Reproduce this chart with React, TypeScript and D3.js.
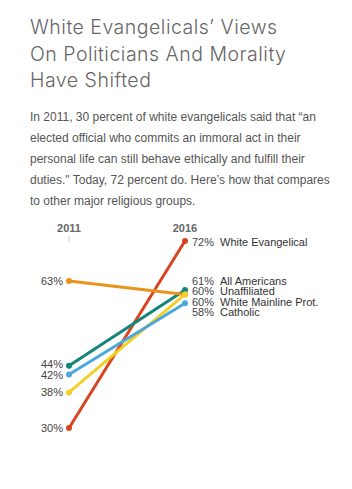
import { useEffect, useRef } from 'react';
import * as d3 from 'd3';

// data
const years = ['2011', '2016'];
const groups = ['White Evangelical', 'All Americans', 'Unaffiliated', 'White Mainline Prot.', 'Catholic'];
const values2011 = [30, 44, 63, 38, 42];
const values2016 = [72, 61, 60, 60, 58];
const colors = ['#d5451f', '#12867a', '#e8941c', '#f2d027', '#4aa8dc'];

const titleLines = ['White Evangelicals\u2019 Views', 'On Politicians And Morality', 'Have Shifted'];
const bodyLines = [
  'In 2011, 30 percent of white evangelicals said that \u201Can',
  'elected official who commits an immoral act in their',
  'personal life can still behave ethically and fulfill their',
  'duties." Today, 72 percent do. Here\u2019s how that compares',
  'to other major religious groups.',
];

type Row = { name: string; a: number; b: number; color: string };

// spread labels apart so they don't overlap, keeping the group centred
const relax = (ys: number[], gap: number) => {
  const order = ys.map((y, i) => ({ y, i })).sort((p, q) => p.y - q.y);
  const clusters: { items: { y: number; i: number }[]; mean: number }[] = [];
  order.forEach(o => {
    clusters.push({ items: [o], mean: o.y });
    let merged = true;
    while (merged && clusters.length > 1) {
      merged = false;
      const c = clusters[clusters.length - 1];
      const p = clusters[clusters.length - 2];
      const pBottom = p.mean + (p.items.length - 1) * gap / 2;
      const cTop = c.mean - (c.items.length - 1) * gap / 2;
      if (cTop - pBottom < gap) {
        const items = p.items.concat(c.items);
        const mean = d3.mean(items, d => d.y) as number;
        clusters.splice(clusters.length - 2, 2, { items, mean });
        merged = true;
      }
    }
  });
  const out = ys.slice();
  clusters.forEach(c => {
    c.items.forEach((it, k) => {
      out[it.i] = c.mean + (k - (c.items.length - 1) / 2) * gap;
    });
  });
  return out;
};

const App = () => {
  const svgRef = useRef<SVGSVGElement>(null);

  useEffect(() => {
    if (!svgRef.current) return;
    const width = 352;
    const height = 489;
    const svg = d3.select(svgRef.current);
    svg.selectAll('*').remove();
    svg.attr('width', width).attr('height', height);

    svg.append('rect').attr('width', width).attr('height', height).attr('fill', '#fff');

    // title
    svg.append('g')
      .selectAll('text')
      .data(titleLines)
      .enter()
      .append('text')
      .attr('x', 30)
      .attr('y', (_, i) => 34 + i * 26.5)
      .attr('fill', '#666')
      .style('font-family', 'Inter, "Open Sans", sans-serif')
      .style('font-weight', 300)
      .style('font-size', '19.5px')
      .style('letter-spacing', '0.5px')
      .text(d => d);

    // intro paragraph
    svg.append('g')
      .selectAll('text')
      .data(bodyLines)
      .enter()
      .append('text')
      .attr('x', 30)
      .attr('y', (_, i) => 121 + i * 21)
      .attr('fill', '#555')
      .style('font-family', '"Liberation Sans", Arial, sans-serif')
      .style('font-size', '12px')
      .text(d => d);

    const rows: Row[] = groups.map((name, i) => ({
      name,
      a: values2011[i],
      b: values2016[i],
      color: colors[i],
    }));

    const x = d3.scalePoint<string>().domain(years).range([69, 185]);
    const y = d3.scaleLinear().domain([30, 72]).range([428, 241]);

    const g = svg.append('g').style('font-family', '"Liberation Sans", Arial, sans-serif');

    // year headers
    g.selectAll('.year')
      .data(years)
      .enter()
      .append('text')
      .attr('class', 'year')
      .attr('x', d => x(d) as number)
      .attr('y', 232)
      .attr('text-anchor', 'middle')
      .attr('fill', '#666')
      .style('font-size', '11px')
      .style('font-weight', 'bold')
      .text(d => d);

    g.append('line')
      .attr('x1', x('2011') as number)
      .attr('x2', x('2011') as number)
      .attr('y1', 236)
      .attr('y2', 242)
      .attr('stroke', '#ccc')
      .attr('stroke-width', 1);

    // slope lines
    const line = d3.line<number>()
      .x((_, i) => x(years[i]) as number)
      .y(d => y(d));

    g.selectAll('.slope')
      .data(rows)
      .enter()
      .append('path')
      .attr('class', 'slope')
      .attr('d', d => line([d.a, d.b]))
      .attr('fill', 'none')
      .attr('stroke', d => d.color)
      .attr('stroke-width', 3);

    years.forEach((yr, k) => {
      g.selectAll(`.dot${yr}`)
        .data(rows)
        .enter()
        .append('circle')
        .attr('cx', x(yr) as number)
        .attr('cy', d => y(k === 0 ? d.a : d.b))
        .attr('r', 3)
        .attr('fill', d => d.color);
    });

    // left labels
    const leftY = relax(rows.map(d => y(d.a)), 11);
    g.selectAll('.lab-l')
      .data(rows)
      .enter()
      .append('text')
      .attr('x', (x('2011') as number) - 6)
      .attr('y', (_, i) => leftY[i])
      .attr('dy', '0.35em')
      .attr('text-anchor', 'end')
      .attr('fill', '#444')
      .style('font-size', '11px')
      .text(d => `${d.a}%`);

    // right labels
    const rightY = relax(rows.map(d => y(d.b) + 1), 10.5);
    const rl = g.selectAll('.lab-r')
      .data(rows)
      .enter()
      .append('g')
      .attr('transform', (_, i) => `translate(${(x('2016') as number) + 7},${rightY[i]})`);

    rl.append('text')
      .attr('dy', '0.35em')
      .attr('fill', '#444')
      .style('font-size', '11px')
      .text(d => `${d.b}%`);

    rl.append('text')
      .attr('x', 28)
      .attr('dy', '0.35em')
      .attr('fill', '#333')
      .style('font-size', '11px')
      .text(d => d.name);
  }, []);

  return (
    <svg ref={svgRef} style={{ position: 'absolute', left: 0, top: 0, display: 'block' }}></svg>
  );
};

export default App;
